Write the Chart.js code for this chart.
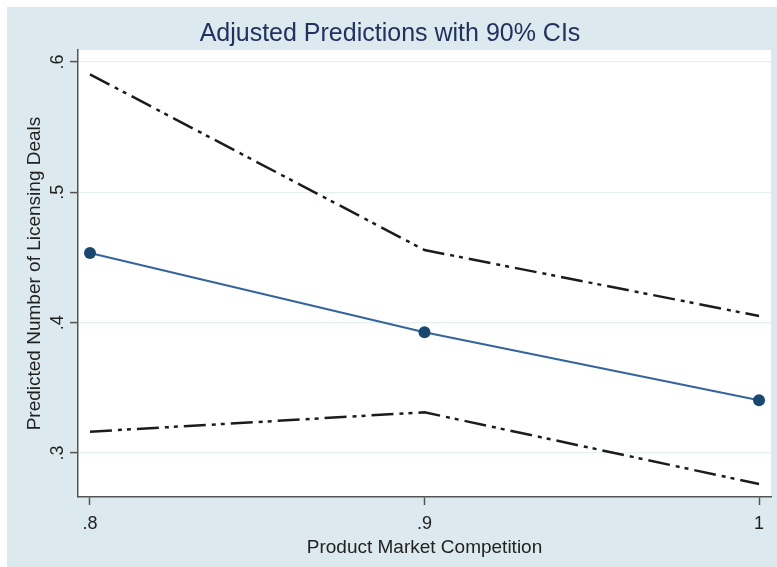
<!DOCTYPE html>
<html>
<head>
<meta charset="utf-8">
<script src="https://cdn.jsdelivr.net/npm/chart.js@4/dist/chart.umd.min.js"></script>
<style>
  html, body { margin: 0; padding: 0; background: #ffffff; }
  #wrap { position: absolute; left: 7px; top: 7px; width: 770px; height: 560px; }
</style>
</head>
<body>
<div id="wrap"><canvas id="c" width="770" height="560"></canvas></div>
<script>
// Product market competition levels (x) and adjusted predictions with 90% CIs
const competition = [0.8, 0.9, 1.0];
const predicted   = [0.4535, 0.3926, 0.3405];
const ciUpper     = [0.5905, 0.4557, 0.4051];
const ciLower     = [0.3163, 0.3312, 0.2762];

const xTicks = [0.8, 0.9, 1.0];
const yTicks = [0.3, 0.4, 0.5, 0.6];

const toPts = (ys) => competition.map((x, i) => ({ x: x, y: ys[i] }));
const fmt = (v) => (Math.abs(v - 1) < 1e-9 ? '1' : v.toFixed(1).replace(/^0/, ''));

const FONT = "'Liberation Sans', Arial, Helvetica, sans-serif";
const AXIS_DARK = '#545454';
const CI_DASH = [22, 6, 4, 5, 4, 6];

// Light bluish page background with a white plot region
const backgroundPlugin = {
  id: 'stataBackground',
  beforeDraw(chart) {
    const { ctx, chartArea: a } = chart;
    ctx.save();
    ctx.fillStyle = '#dce9ef';
    ctx.fillRect(0, 0, chart.width, chart.height);
    ctx.fillStyle = '#ffffff';
    ctx.fillRect(a.left, a.top, a.right - a.left, a.bottom - a.top);
    ctx.restore();
  }
};

new Chart(document.getElementById('c'), {
  type: 'line',
  data: {
    datasets: [
      {
        label: 'Upper CI',
        data: toPts(ciUpper),
        borderColor: '#1c1c1c',
        borderWidth: 2.5,
        borderDash: CI_DASH,
        pointRadius: 0,
        fill: false,
        tension: 0
      },
      {
        label: 'Prediction',
        data: toPts(predicted),
        borderColor: '#33649a',
        backgroundColor: '#1a476f',
        borderWidth: 2,
        pointRadius: 6,
        pointBorderWidth: 0,
        pointBackgroundColor: '#1a476f',
        fill: false,
        tension: 0
      },
      {
        label: 'Lower CI',
        data: toPts(ciLower),
        borderColor: '#1c1c1c',
        borderWidth: 2.5,
        borderDash: CI_DASH,
        pointRadius: 0,
        fill: false,
        tension: 0
      }
    ]
  },
  options: {
    responsive: false,
    animation: false,
    layout: { padding: { left: 0, right: 4, top: 0, bottom: 0 } },
    plugins: {
      legend: { display: false },
      tooltip: { enabled: false },
      title: {
        display: true,
        text: 'Adjusted Predictions with 90% CIs',
        color: '#23315e',
        font: { family: FONT, size: 25, weight: 'normal', lineHeight: 1.2 },
        padding: { top: 12, bottom: 1 }
      }
    },
    scales: {
      x: {
        type: 'linear',
        min: 0.79642,
        max: 1.00358,
        afterBuildTicks(scale) { scale.ticks = xTicks.map(v => ({ value: v })); },
        afterFit(scale) { scale.height = 70; },
        grid: {
          drawOnChartArea: false,
          drawTicks: true,
          tickLength: 8,
          tickColor: AXIS_DARK,
          tickWidth: 1.5
        },
        border: { display: true, color: AXIS_DARK, width: 1.5 },
        ticks: {
          padding: 8,
          color: '#222222',
          font: { family: FONT, size: 18 },
          maxRotation: 0,
          minRotation: 0,
          callback: (v) => fmt(v)
        },
        title: {
          display: true,
          text: 'Product Market Competition',
          color: '#222222',
          font: { family: FONT, size: 19, lineHeight: 1.2 },
          padding: { top: 0, bottom: 8 }
        }
      },
      y: {
        type: 'linear',
        min: 0.2662,
        max: 0.6092,
        afterBuildTicks(scale) { scale.ticks = yTicks.map(v => ({ value: v })); },
        afterFit(scale) { scale.width = 71; },
        grid: {
          drawOnChartArea: true,
          color: '#e6eff2',
          lineWidth: 1.2,
          drawTicks: true,
          tickLength: 8,
          tickColor: AXIS_DARK,
          tickWidth: 1.5
        },
        border: { display: true, color: AXIS_DARK, width: 1.5 },
        ticks: {
          padding: 4,
          minRotation: 90,
          maxRotation: 90,
          crossAlign: 'center',
          color: '#222222',
          font: { family: FONT, size: 18 },
          callback: (v) => fmt(v)
        },
        title: {
          display: true,
          text: 'Predicted Number of Licensing Deals',
          color: '#222222',
          font: { family: FONT, size: 19, lineHeight: 1.2 },
          padding: { top: 16, bottom: 0 }
        }
      }
    }
  },
  plugins: [backgroundPlugin]
});
</script>
</body>
</html>
